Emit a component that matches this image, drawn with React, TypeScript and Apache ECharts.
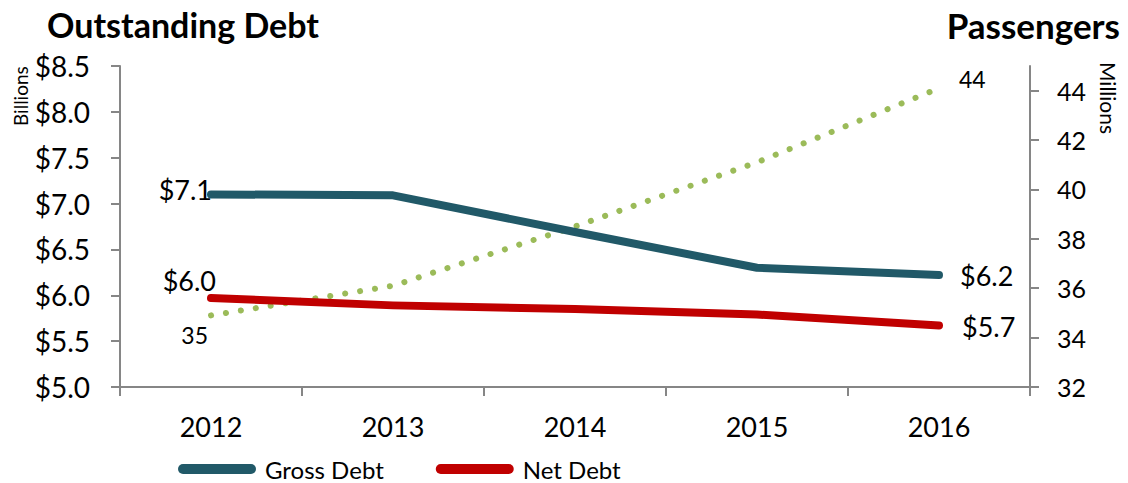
import React, { useEffect, useRef } from "react";
import * as echarts from "echarts";

const years = ["2012", "2013", "2014", "2015", "2016"];
const grossDebt = [7.1, 7.09, 6.69, 6.3, 6.22];
const netDebt = [5.97, 5.89, 5.85, 5.79, 5.67];
const passengers = [34.9, 36.1, 38.5, 41.1, 44.1];
const leftTicks = [5.0, 5.5, 6.0, 6.5, 7.0, 7.5, 8.0, 8.5];
const rightTicks = [32, 34, 36, 38, 40, 42, 44];

const FONT = "Lato, 'Open Sans', sans-serif";

export default function App() {
  const ref = useRef<HTMLDivElement>(null);
  useEffect(() => {
    if (!ref.current) return;
    const chart = echarts.init(ref.current, null, { renderer: "svg" });
    const last = years.length - 1;
    const money = (v: number) => "$" + v.toFixed(1);
    const lbl = (text: string, align: string, offset: number[], fontSize: number) => ({
      show: true,
      position: [0, 0],
      align,
      verticalAlign: "middle",
      offset,
      fontSize,
      color: "#000",
      fontFamily: FONT,
      formatter: () => text,
    });
    const grossData = grossDebt.map((v, i) => ({
      value: v,
      label:
        i === 0
          ? lbl(money(v), "right", [1, -5], 27)
          : i === last
          ? lbl(money(v), "left", [21, 0], 27)
          : { show: false },
    }));
    const netData = netDebt.map((v, i) => ({
      value: v,
      label:
        i === 0
          ? lbl(money(v), "right", [5, -18], 27)
          : i === last
          ? lbl(money(v), "left", [23, 1], 27)
          : { show: false },
    }));
    const paxData = passengers.map((v, i) => ({
      value: v,
      label:
        i === 0
          ? lbl(String(Math.round(v)), "right", [-3, 20], 23)
          : i === last
          ? lbl(String(Math.round(v)), "left", [20, -9], 23)
          : { show: false },
    }));
    const axisColor = "#868686";
    chart.setOption({
      animation: false,
      textStyle: { fontFamily: FONT },
      grid: { left: 120, right: 98, top: 66, bottom: 96, containLabel: false },
      title: [
        { text: "Outstanding Debt", left: 42, top: 2, textStyle: { fontSize: 34, fontWeight: "bold", color: "#000", fontFamily: FONT } },
        { text: "Passengers", right: 3, top: 2, textStyle: { fontSize: 35, fontWeight: "bold", color: "#000", fontFamily: FONT } },
      ],
      graphic: [
        { type: "text", x: 11, y: 126, rotation: Math.PI / 2, style: { text: "Billions", fontSize: 19, fill: "#000", fontFamily: FONT } },
        { type: "text", x: 1119, y: 62, rotation: -Math.PI / 2, style: { text: "Millions", fontSize: 21, fill: "#000", fontFamily: FONT } },
      ],
      legend: {
        left: 178,
        top: 457,
        padding: 0,
        itemWidth: 78,
        itemHeight: 10,
        itemGap: 52,
        icon: "path://M5,0 L73,0 A5,5 0 0 1 73,10 L5,10 A5,5 0 0 1 5,0 Z",
        textStyle: { fontSize: 24, lineHeight: 24, color: "#000", fontFamily: FONT, padding: [0, 0, 0, 4] },
        data: ["Gross Debt", "Net Debt"],
      },
      xAxis: {
        type: "category",
        data: years,
        boundaryGap: true,
        axisLine: { lineStyle: { color: axisColor, width: 2 } },
        axisTick: { show: true, length: 9, lineStyle: { color: axisColor, width: 2 } },
        axisLabel: { fontSize: 27, color: "#000", margin: 26 },
      },
      yAxis: [
        {
          type: "value",
          min: 5,
          max: 8.5,
          interval: 0.5,
          splitLine: { show: false },
          axisLine: { show: true, lineStyle: { color: axisColor, width: 2 } },
          axisTick: { show: true, length: 9, lineStyle: { color: axisColor, width: 2 } },
          axisLabel: { fontSize: 28, color: "#000", margin: 30, formatter: (v: number) => "$" + v.toFixed(1), customValues: leftTicks },
        },
        {
          type: "value",
          min: 32,
          max: 45,
          interval: 2,
          position: "right",
          splitLine: { show: false },
          axisLine: { show: true, lineStyle: { color: axisColor, width: 2 } },
          axisTick: { show: true, length: 9, lineStyle: { color: axisColor, width: 2 }, customValues: rightTicks },
          axisLabel: { fontSize: 25, color: "#000", margin: 27, customValues: rightTicks },
        },
      ],
      series: [
        {
          name: "Passengers",
          type: "line",
          yAxisIndex: 1,
          data: paxData,
          showSymbol: true,
          symbol: "circle",
          symbolSize: 0.01,
          lineStyle: { color: "#9BBB59", width: 6, type: [0.1, 15], cap: "round" },
          itemStyle: { color: "#9BBB59" },
          z: 1,
        },
        {
          name: "Gross Debt",
          type: "line",
          data: grossData,
          showSymbol: true,
          symbol: "circle",
          symbolSize: 0.01,
          lineStyle: { color: "#215968", width: 8, cap: "round", join: "round" },
          itemStyle: { color: "#215968" },
          z: 2,
        },
        {
          name: "Net Debt",
          type: "line",
          data: netData,
          showSymbol: true,
          symbol: "circle",
          symbolSize: 0.01,
          lineStyle: { color: "#C00000", width: 8, cap: "round", join: "round" },
          itemStyle: { color: "#C00000" },
          z: 3,
        },
      ],
    });
    return () => chart.dispose();
  }, []);
  return <div ref={ref} style={{ width: 1128, height: 483, position: "absolute", left: 0, top: 0 }} />;
}
